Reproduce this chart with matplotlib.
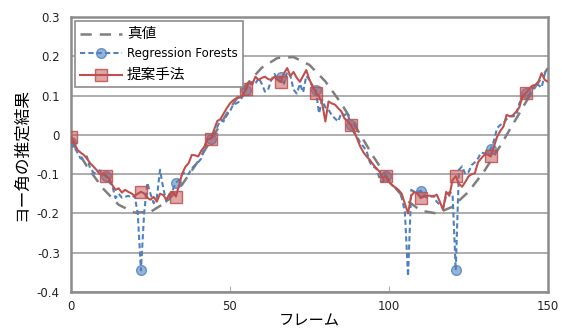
import matplotlib
matplotlib.use("Agg")
import matplotlib.pyplot as plt
import numpy as np

plt.rcParams['font.family'] = ['DejaVu Sans', 'Noto Sans CJK JP']

frames = list(range(151))

true_frames = list(range(0, 151, 5))
true_vals = [-0.014, -0.080, -0.136, -0.178, -0.198, -0.196, -0.171, -0.126, -0.067, 0.000,
             0.067, 0.126, 0.171, 0.196, 0.198, 0.178, 0.136, 0.080, 0.014, -0.054,
             -0.116, -0.163, -0.193, -0.200, -0.183, -0.145, -0.092, -0.028, 0.041, 0.110, 0.170]

rf_vals = [-0.017, -0.03, -0.045, -0.06, -0.062, -0.055, -0.085, -0.095, -0.1, -0.09,
           -0.1, -0.105, -0.12, -0.13, -0.161, -0.15, -0.16, -0.158, -0.155, -0.16,
           -0.155, -0.2, -0.345, -0.2, -0.122, -0.15, -0.174, -0.16, -0.089, -0.135,
           -0.17, -0.155, -0.14, -0.122, -0.115, -0.1, -0.095, -0.1, -0.085, -0.077,
           -0.07, -0.06, -0.03, -0.01, -0.01, 0.0, 0.02, 0.038, 0.034, 0.05,
           0.06, 0.077, 0.08, 0.085, 0.098, 0.115, 0.125, 0.135, 0.13, 0.145,
           0.13, 0.11, 0.115, 0.14, 0.155, 0.14, 0.147, 0.13, 0.16, 0.15,
           0.115, 0.105, 0.13, 0.108, 0.15, 0.14, 0.12, 0.114, 0.055, 0.089,
           0.07, 0.064, 0.05, 0.042, 0.034, 0.055, 0.05, 0.055, 0.025, 0.005,
           -0.004, -0.021, -0.03, -0.042, -0.07, -0.081, -0.085, -0.11, -0.12, -0.105,
           -0.12, -0.128, -0.135, -0.142, -0.16, -0.195, -0.36, -0.14, -0.145, -0.145,
           -0.142, -0.155, -0.16, -0.158, -0.155, -0.17, -0.178, -0.186, -0.155, -0.146,
           -0.15, -0.345, -0.089, -0.08, -0.1, -0.095, -0.077, -0.07, -0.06, -0.045,
           -0.047, -0.045, -0.037, -0.015, 0.017, 0.025, 0.03, 0.04, 0.047, 0.047,
           0.05, 0.08, 0.098, 0.106, 0.1, 0.115, 0.131, 0.127, 0.12, 0.155, 0.165]

prop_vals = [-0.005, -0.02, -0.038, -0.045, -0.051, -0.06, -0.072, -0.08, -0.089, -0.1,
             -0.098, -0.104, -0.111, -0.128, -0.14, -0.136, -0.147, -0.14, -0.145, -0.149,
             -0.155, -0.15, -0.145, -0.149, -0.16, -0.165, -0.158, -0.17, -0.15, -0.153,
             -0.165, -0.15, -0.145, -0.157, -0.128, -0.098, -0.081, -0.072, -0.051, -0.052,
             -0.055, -0.04, -0.03, -0.01, -0.01, 0.013, 0.035, 0.04, 0.054, 0.068,
             0.08, 0.088, 0.093, 0.095, 0.1, 0.117, 0.135, 0.128, 0.148, 0.14,
             0.145, 0.148, 0.142, 0.14, 0.148, 0.14, 0.135, 0.157, 0.17, 0.15,
             0.16, 0.145, 0.135, 0.15, 0.165, 0.14, 0.125, 0.106, 0.098, 0.08,
             0.034, 0.085, 0.08, 0.077, 0.068, 0.06, 0.042, 0.035, 0.025, 0.01,
             -0.01, -0.03, -0.045, -0.055, -0.064, -0.075, -0.085, -0.093, -0.11, -0.105,
             -0.12, -0.128, -0.134, -0.14, -0.15, -0.175, -0.2, -0.155, -0.145, -0.15,
             -0.161, -0.157, -0.155, -0.155, -0.157, -0.152, -0.17, -0.191, -0.145, -0.155,
             -0.115, -0.105, -0.125, -0.132, -0.12, -0.106, -0.1, -0.098, -0.07, -0.06,
             -0.051, -0.05, -0.055, -0.03, -0.005, 0.01, 0.021, 0.051, 0.047, 0.05,
             0.059, 0.07, 0.098, 0.106, 0.115, 0.125, 0.127, 0.135, 0.157, 0.14, 0.135]

labels = ['真値', 'Regression Forests', '提案手法']
xticks = [0, 50, 100, 150]
yticks = [-0.4, -0.3, -0.2, -0.1, 0, 0.1, 0.2, 0.3]
ytick_labels = ['-0.4', '-0.3', '-0.2', '-0.1', '0', '0.1', '0.2', '0.3']

fig = plt.figure(figsize=(5.62, 3.32), dpi=100)
ax = fig.add_axes([0.1263, 0.1205, 0.8487, 0.8283])

blue = '#4F81BD'
red = '#C0504D'
gray = '#7F7F7F'

ax.plot(true_frames, true_vals, color=gray, lw=1.8, dashes=(4.5, 3.2), label=labels[0], zorder=3)
ax.plot(frames, rf_vals, color=blue, lw=1.5, dashes=(2.5, 1.5), marker='o', markevery=11,
        markersize=7, markerfacecolor=(0.31, 0.51, 0.74, 0.6), markeredgecolor=(0.31, 0.51, 0.74, 0.8),
        label=labels[1], zorder=4)
ax.plot(frames, prop_vals, color=red, lw=1.5, marker='s', markevery=11,
        markersize=8.5, markerfacecolor=(0.75, 0.31, 0.30, 0.5), markeredgecolor=(0.75, 0.31, 0.30, 0.85),
        label=labels[2], zorder=5)

ax.set_xlim(0, 150)
ax.set_ylim(-0.4, 0.3)
ax.set_xticks(xticks)
ax.set_yticks(yticks)
ax.set_yticklabels(ytick_labels)
ax.yaxis.grid(True, color='#A0A0A0', lw=1.2)
ax.set_axisbelow(True)
for s in ax.spines.values():
    s.set_color('#8C8C8C')
    s.set_linewidth(1.8)
ax.tick_params(axis='y', length=0, pad=8, labelsize=8.5, labelcolor='#222222')
ax.tick_params(axis='x', direction='in', length=4, color='#B0B0B0', pad=6, labelsize=8.5, labelcolor='#222222')

ax.set_ylabel('ヨー角の推定結果', fontsize=12, labelpad=5)
ax.set_xlabel('フレーム', fontsize=11, labelpad=0)

leg = ax.legend(loc='upper left', bbox_to_anchor=(0.0, 1.0), fontsize=8.5, frameon=True,
                fancybox=False, edgecolor='#8C8C8C', framealpha=1, handlelength=3.6,
                borderaxespad=0.3, labelspacing=0.55, handletextpad=0.4, borderpad=0.45)
leg.get_frame().set_linewidth(1.2)
leg.get_texts()[0].set_fontsize(10.5)
leg.get_texts()[2].set_fontsize(10.5)

fig.savefig('out.png', dpi=100)
